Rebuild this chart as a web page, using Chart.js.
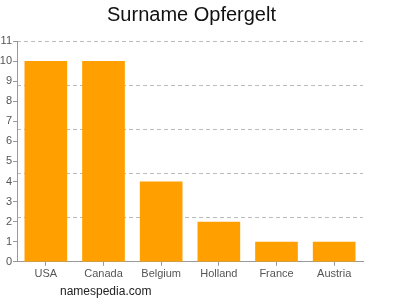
<!DOCTYPE html>
<html>
<head>
<meta charset="utf-8">
<script src="https://cdn.jsdelivr.net/npm/chart.js@4/dist/chart.umd.min.js"></script>
<style>
  html, body { margin: 0; padding: 0; background: #fff; }
  #wrap { position: relative; width: 400px; height: 300px; }
  #footer { position: absolute; left: 60px; top: 284px; font: 12px "Liberation Sans", Arial, sans-serif; color: #222; }
</style>
</head>
<body>
<div id="wrap">
  <canvas id="c" width="400" height="300"></canvas>
  <div id="footer">namespedia.com</div>
</div>
<script>
const categories = ["USA", "Canada", "Belgium", "Holland", "France", "Austria"];
const counts = [10, 10, 4, 2, 1, 1];
const yTicks = [0, 1, 2, 3, 4, 5, 6, 7, 8, 9, 10, 11];
const gridStep = 2.2;
const titleText = "Surname Opfergelt";

const font = "'Liberation Sans', Arial, sans-serif";

new Chart(document.getElementById('c'), {
  type: 'bar',
  data: {
    labels: categories,
    datasets: [{
      data: counts,
      backgroundColor: '#FFA000',
      borderWidth: 0,
      barPercentage: 0.74,
      categoryPercentage: 1.0
    }]
  },
  options: {
    responsive: false,
    animation: false,
    devicePixelRatio: 1,
    layout: { padding: { left: 0, right: 17, top: 0, bottom: 17 } },
    plugins: {
      legend: { display: false },
      tooltip: { enabled: false },
      title: {
        display: true,
        text: titleText,
        color: '#111',
        font: { family: font, size: 20, weight: 'normal' },
        padding: { top: 3, bottom: 14 }
      }
    },
    scales: {
      x: {
        offset: true,
        grid: { display: true, drawOnChartArea: false, offset: false, tickLength: 4, color: '#999' },
        border: { display: true, color: '#999' },
        ticks: { color: '#555', font: { family: font, size: 11 }, padding: 2 }
      },
      yg: {
        position: 'left',
        min: 0, max: 11,
        afterFit: s => { s.width = 0; },
        ticks: { display: false, stepSize: gridStep },
        border: { display: false, dash: [4, 3] },
        grid: {
          color: ctx => ctx.tick && ctx.tick.value > 0 ? '#bbb' : 'rgba(0,0,0,0)',
          drawTicks: false,
          lineWidth: 1
        },
        afterBuildTicks: s => { s.ticks = [1,2,3,4,5].map(k => ({ value: +(k * gridStep).toFixed(1) })); }
      },
      yr: {
        position: 'right',
        min: 0, max: 11,
        afterFit: s => { s.width = 20; },
        ticks: { display: false },
        border: { display: false },
        grid: { display: false }
      },
      y: {
        position: 'left',
        min: 0, max: 11,
        afterFit: s => { s.width = 17; },
        afterBuildTicks: s => { s.ticks = yTicks.map(v => ({ value: v })); },
        ticks: { color: '#555', font: { family: font, size: 11 }, padding: 1 },
        border: { display: true, color: '#999' },
        grid: { display: true, drawOnChartArea: false, tickLength: 4, color: '#999' }
      }
    }
  }
});
</script>
</body>
</html>
